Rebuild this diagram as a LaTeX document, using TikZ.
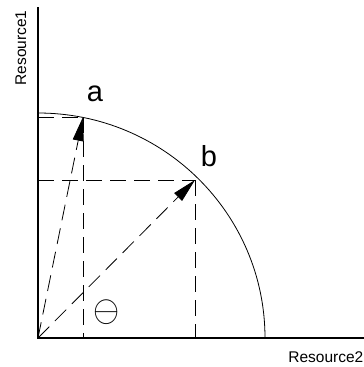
\documentclass[tikz,border=0pt]{standalone}
\usepackage{fontspec}
\setmainfont{Liberation Sans}
\usetikzlibrary{arrows.meta}
\begin{document}
\begin{tikzpicture}[x=1pt,y=-1pt,
  axis/.style={line width=2.6pt},
  guide/.style={line width=0.8pt, dash pattern=on 16pt off 8pt},
  vec/.style={line width=0.8pt, dash pattern=on 16pt off 8pt, -{Triangle[length=24pt,width=11pt]}},
  curve/.style={line width=0.8pt},
  lbl/.style={font=\fontsize{29}{31}\selectfont, inner sep=0pt},
  axlbl/.style={font=\fontsize{15.5}{17}\selectfont, inner sep=0pt}]
\useasboundingbox (0,0) rectangle (364,367);
\coordinate (O) at (38,338);
\coordinate (ytop) at (38,7);
\coordinate (xend) at (364,338);
\coordinate (a) at (83,117);
\coordinate (b) at (195,180);
\coordinate (ay) at (38,117);
\coordinate (ax) at (83,338);
\coordinate (by) at (38,180);
\coordinate (bx) at (195,338);
\coordinate (ctop) at (38,113);
% curve
\draw[curve] (ctop) arc[start angle=-90, end angle=0, x radius=227, y radius=225];
% guides
\draw[guide] (ay) -- (a);
\draw[guide] (a) -- (ax);
\draw[guide] (by) -- (b);
\draw[guide] (b) -- (bx);
% vectors
\draw[vec] (O) -- (a);
\draw[vec] (O) -- (b);
% axes
\draw[axis] (ytop) -- (O) -- (xend);
% labels
\node[lbl] (la) at (95,94) {a};
\node[lbl] (lb) at (209,156) {b};
\node[inner sep=0pt, xscale=1.35, yscale=1.5, font=\Huge] (th) at (107,312) {$\ominus$};
\node[axlbl, rotate=90, anchor=base] (r1) at (26,48) {Resource1};
\node[axlbl, anchor=base east] (r2) at (363.5,362) {Resource2};
\end{tikzpicture}
\end{document}
